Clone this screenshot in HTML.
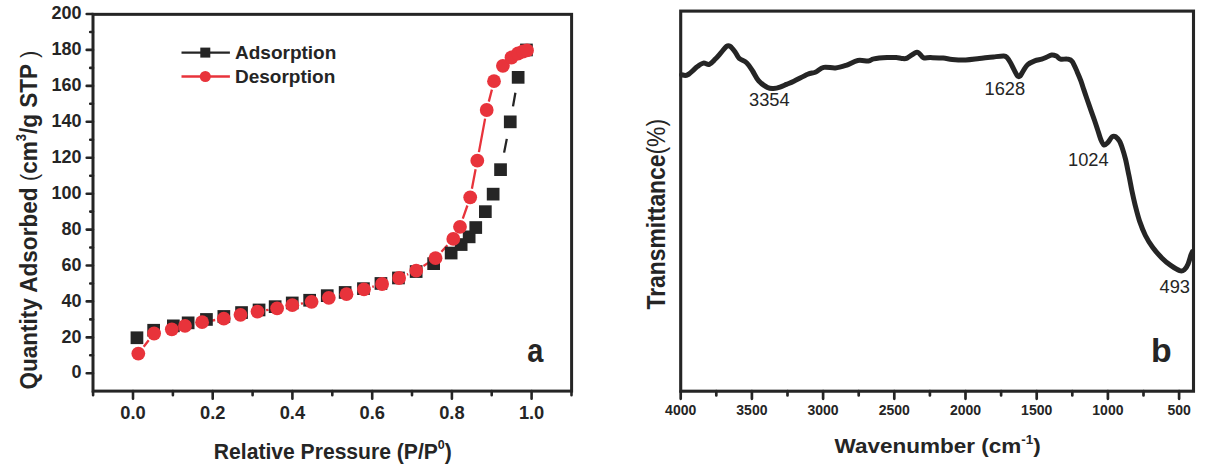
<!DOCTYPE html><html><head><meta charset="utf-8"><style>html,body{margin:0;padding:0;background:#fff;width:1219px;height:469px;overflow:hidden}svg{display:block}text{font-family:"Liberation Sans",sans-serif}</style></head><body>
<svg width="1219" height="469" viewBox="0 0 1219 469">
<path d="M86.7,373.3H93 M86.7,337.4H93 M86.7,301.4H93 M86.7,265.5H93 M86.7,229.6H93 M86.7,193.7H93 M86.7,157.7H93 M86.7,121.8H93 M86.7,85.9H93 M86.7,49.9H93 M86.7,14.0H93 M90.2,355.3H93 M90.2,319.4H93 M90.2,283.5H93 M90.2,247.5H93 M90.2,211.6H93 M90.2,175.7H93 M90.2,139.8H93 M90.2,103.8H93 M90.2,67.9H93 M90.2,32.0H93 M133.0,391.1V398.70000000000005 M212.7,391.1V398.70000000000005 M292.4,391.1V398.70000000000005 M372.2,391.1V398.70000000000005 M451.9,391.1V398.70000000000005 M531.6,391.1V398.70000000000005 M93.1,391.1V395.3 M172.9,391.1V395.3 M252.6,391.1V395.3 M332.3,391.1V395.3 M412.0,391.1V395.3 M491.7,391.1V395.3 M571.5,391.1V395.3" stroke="#252525" stroke-width="2.6" fill="none" stroke-linecap="round"/>
<rect x="93" y="14.35" width="478.6" height="376.75" fill="none" stroke="#252525" stroke-width="3.0"/>
<text x="81.5" y="378.4" text-anchor="end" font-size="18" font-weight="bold" fill="#252525">0</text>
<text x="81.5" y="342.5" text-anchor="end" font-size="18" font-weight="bold" fill="#252525">20</text>
<text x="81.5" y="306.5" text-anchor="end" font-size="18" font-weight="bold" fill="#252525">40</text>
<text x="81.5" y="270.6" text-anchor="end" font-size="18" font-weight="bold" fill="#252525">60</text>
<text x="81.5" y="234.7" text-anchor="end" font-size="18" font-weight="bold" fill="#252525">80</text>
<text x="81.5" y="198.8" text-anchor="end" font-size="18" font-weight="bold" fill="#252525">100</text>
<text x="81.5" y="162.8" text-anchor="end" font-size="18" font-weight="bold" fill="#252525">120</text>
<text x="81.5" y="126.9" text-anchor="end" font-size="18" font-weight="bold" fill="#252525">140</text>
<text x="81.5" y="91.0" text-anchor="end" font-size="18" font-weight="bold" fill="#252525">160</text>
<text x="81.5" y="55.0" text-anchor="end" font-size="18" font-weight="bold" fill="#252525">180</text>
<text x="81.5" y="19.1" text-anchor="end" font-size="18" font-weight="bold" fill="#252525">200</text>
<text x="133.0" y="419.2" text-anchor="middle" font-size="18.3" font-weight="bold" fill="#252525">0.0</text>
<text x="212.7" y="419.2" text-anchor="middle" font-size="18.3" font-weight="bold" fill="#252525">0.2</text>
<text x="292.4" y="419.2" text-anchor="middle" font-size="18.3" font-weight="bold" fill="#252525">0.4</text>
<text x="372.2" y="419.2" text-anchor="middle" font-size="18.3" font-weight="bold" fill="#252525">0.6</text>
<text x="451.9" y="419.2" text-anchor="middle" font-size="18.3" font-weight="bold" fill="#252525">0.8</text>
<text x="531.6" y="419.2" text-anchor="middle" font-size="18.3" font-weight="bold" fill="#252525">1.0</text>
<text transform="translate(213.8,458.8) scale(0.96,1)" font-size="22" font-weight="bold" fill="#252525">Relative Pressure (P/P<tspan dy="-10" font-size="13">0</tspan><tspan dy="10">)</tspan></text>
<text transform="translate(37.2,389.5) rotate(-90) scale(0.92,1)" font-size="24.5" font-weight="bold" fill="#252525">Quantity Adsorbed <tspan font-weight="normal">(</tspan>cm<tspan dy="-11" font-size="14">3</tspan><tspan dy="11">/g STP </tspan><tspan font-weight="normal">)</tspan></text>
<text transform="translate(527.2,362.2) scale(0.89,1)" font-size="32.5" font-weight="bold" fill="#252525">a</text>
<path d="M181.5,52.6H229.9" stroke="#252525" stroke-width="2.4"/><rect x="200.3" y="47.6" width="10" height="10" fill="#252525"/>
<text transform="translate(235,59.3) scale(1,1)" font-size="19" font-weight="bold" fill="#252525">Adsorption</text>
<path d="M181.5,76.5H229.9" stroke="#e8333b" stroke-width="2.4"/><circle cx="205.3" cy="76.5" r="5.5" fill="#e8333b"/>
<text transform="translate(235,82.9) scale(1,1)" font-size="19" font-weight="bold" fill="#252525">Desorption</text>
<path d="M504.1,152.6L506.8,138.9 M513.0,106.4L515.4,92.7" stroke="#252525" stroke-width="2.3" fill="none"/>
<path d="M143.7,346.8L148.7,340.3 M210.7,320.8L215.2,320.0 M266.1,310.2L268.5,309.8 M300.9,303.7L303.0,303.3 M372.3,286.9L373.8,286.4 M407.1,274.6L408.2,274.1 M423.5,266.0L428.2,262.9 M441.4,251.8L447.4,245.3 M462.8,218.6L467.4,205.5 M471.9,188.8L475.6,169.2 M478.9,152.1L485.1,118.6 M488.8,101.6L491.9,89.6" stroke="#e8333b" stroke-width="2.3" fill="none"/>
<rect x="130.6" y="331.4" width="12.7" height="12.7" fill="#252525"/>
<rect x="147.3" y="323.9" width="12.7" height="12.7" fill="#252525"/>
<rect x="167.0" y="319.5" width="12.7" height="12.7" fill="#252525"/>
<rect x="181.8" y="316.5" width="12.7" height="12.7" fill="#252525"/>
<rect x="200.1" y="313.1" width="12.7" height="12.7" fill="#252525"/>
<rect x="217.5" y="310.1" width="12.7" height="12.7" fill="#252525"/>
<rect x="235.2" y="306.2" width="12.7" height="12.7" fill="#252525"/>
<rect x="252.7" y="303.6" width="12.7" height="12.7" fill="#252525"/>
<rect x="268.8" y="300.3" width="12.7" height="12.7" fill="#252525"/>
<rect x="285.9" y="296.6" width="12.7" height="12.7" fill="#252525"/>
<rect x="303.3" y="293.9" width="12.7" height="12.7" fill="#252525"/>
<rect x="320.9" y="289.3" width="12.7" height="12.7" fill="#252525"/>
<rect x="338.8" y="286.1" width="12.7" height="12.7" fill="#252525"/>
<rect x="357.1" y="282.3" width="12.7" height="12.7" fill="#252525"/>
<rect x="374.6" y="277.1" width="12.7" height="12.7" fill="#252525"/>
<rect x="392.1" y="271.6" width="12.7" height="12.7" fill="#252525"/>
<rect x="409.8" y="265.2" width="12.7" height="12.7" fill="#252525"/>
<rect x="427.3" y="257.3" width="12.7" height="12.7" fill="#252525"/>
<rect x="444.8" y="246.7" width="12.7" height="12.7" fill="#252525"/>
<rect x="454.8" y="238.2" width="12.7" height="12.7" fill="#252525"/>
<rect x="462.8" y="230.5" width="12.7" height="12.7" fill="#252525"/>
<rect x="469.4" y="221.2" width="12.7" height="12.7" fill="#252525"/>
<rect x="479.0" y="205.3" width="12.7" height="12.7" fill="#252525"/>
<rect x="486.8" y="187.8" width="12.7" height="12.7" fill="#252525"/>
<rect x="494.2" y="163.3" width="12.7" height="12.7" fill="#252525"/>
<rect x="503.9" y="115.5" width="12.7" height="12.7" fill="#252525"/>
<rect x="511.8" y="71.0" width="12.7" height="12.7" fill="#252525"/>
<rect x="520.1" y="43.6" width="12.7" height="12.7" fill="#252525"/>
<circle cx="138.3" cy="353.6" r="6.9" fill="#e8333b"/>
<circle cx="154.1" cy="333.5" r="6.9" fill="#e8333b"/>
<circle cx="171.8" cy="329.3" r="6.9" fill="#e8333b"/>
<circle cx="185" cy="325.9" r="6.9" fill="#e8333b"/>
<circle cx="202.1" cy="322.2" r="6.9" fill="#e8333b"/>
<circle cx="223.8" cy="318.6" r="6.9" fill="#e8333b"/>
<circle cx="240.5" cy="314.8" r="6.9" fill="#e8333b"/>
<circle cx="257.5" cy="311.6" r="6.9" fill="#e8333b"/>
<circle cx="277.1" cy="308.4" r="6.9" fill="#e8333b"/>
<circle cx="292.3" cy="305.2" r="6.9" fill="#e8333b"/>
<circle cx="311.6" cy="301.8" r="6.9" fill="#e8333b"/>
<circle cx="328.8" cy="297.8" r="6.9" fill="#e8333b"/>
<circle cx="346.5" cy="294.2" r="6.9" fill="#e8333b"/>
<circle cx="364" cy="289.3" r="6.9" fill="#e8333b"/>
<circle cx="382.1" cy="284" r="6.9" fill="#e8333b"/>
<circle cx="399.1" cy="278" r="6.9" fill="#e8333b"/>
<circle cx="416.2" cy="270.7" r="6.9" fill="#e8333b"/>
<circle cx="435.5" cy="258.2" r="6.9" fill="#e8333b"/>
<circle cx="453.3" cy="238.9" r="6.9" fill="#e8333b"/>
<circle cx="460" cy="226.8" r="6.9" fill="#e8333b"/>
<circle cx="470.2" cy="197.3" r="6.9" fill="#e8333b"/>
<circle cx="477.3" cy="160.7" r="6.9" fill="#e8333b"/>
<circle cx="486.7" cy="110" r="6.9" fill="#e8333b"/>
<circle cx="494" cy="81.2" r="6.9" fill="#e8333b"/>
<circle cx="502.9" cy="65.8" r="6.9" fill="#e8333b"/>
<circle cx="511.5" cy="57.5" r="6.9" fill="#e8333b"/>
<circle cx="518" cy="53.5" r="6.9" fill="#e8333b"/>
<circle cx="523" cy="51.5" r="6.9" fill="#e8333b"/>
<circle cx="527" cy="50.4" r="6.9" fill="#e8333b"/>
<path d="M680.7,391.2V398.8 M751.9,391.2V398.8 M823.1,391.2V398.8 M894.3,391.2V398.8 M965.5,391.2V398.8 M1036.7,391.2V398.8 M1107.9,391.2V398.8 M1179.1,391.2V398.8 M716.3,391.2V395.4 M787.5,391.2V395.4 M858.7,391.2V395.4 M929.9,391.2V395.4 M1001.1,391.2V395.4 M1072.3,391.2V395.4 M1143.5,391.2V395.4" stroke="#252525" stroke-width="2.7" fill="none" stroke-linecap="round"/>
<rect x="680.7" y="11.1" width="512.8" height="380.09999999999997" fill="none" stroke="#252525" stroke-width="3.1"/>
<text x="680.7" y="414.6" text-anchor="middle" font-size="14" font-weight="bold" fill="#252525">4000</text>
<text x="751.9" y="414.6" text-anchor="middle" font-size="14" font-weight="bold" fill="#252525">3500</text>
<text x="823.1" y="414.6" text-anchor="middle" font-size="14" font-weight="bold" fill="#252525">3000</text>
<text x="894.3" y="414.6" text-anchor="middle" font-size="14" font-weight="bold" fill="#252525">2500</text>
<text x="965.5" y="414.6" text-anchor="middle" font-size="14" font-weight="bold" fill="#252525">2000</text>
<text x="1036.7" y="414.6" text-anchor="middle" font-size="14" font-weight="bold" fill="#252525">1500</text>
<text x="1107.9" y="414.6" text-anchor="middle" font-size="14" font-weight="bold" fill="#252525">1000</text>
<text x="1179.1" y="414.6" text-anchor="middle" font-size="14" font-weight="bold" fill="#252525">500</text>
<text transform="translate(834.5,452.5) scale(1.115,1)" font-size="20.2" font-weight="bold" fill="#252525">Wavenumber (cm<tspan dy="-9" font-size="12">-1</tspan><tspan dy="9">)</tspan></text>
<text transform="translate(664.7,309.5) rotate(-90) scale(0.88,1)" font-size="26" font-weight="bold" fill="#252525">Transmittance<tspan font-weight="normal">(%)</tspan></text>
<text transform="translate(1151,362) scale(1.04,1)" font-size="32.5" font-weight="bold" fill="#252525">b</text>
<text x="749" y="105.6" font-size="18.3" fill="#252525">3354</text>
<text x="984.5" y="95.2" font-size="18.3" fill="#252525">1628</text>
<text x="1068" y="166" font-size="18.3" fill="#252525">1024</text>
<text x="1159.5" y="292.5" font-size="18.3" fill="#252525">493</text>
<path d="M681.7,74.8 C682.7,74.8 685.1,76.2 687.7,74.8 C690.3,73.4 694.8,68.5 697.4,66.6 C700.0,64.6 701.4,63.5 703.4,63.1 C705.4,62.7 707.3,65.0 709.3,64.3 C711.3,63.6 713.3,61.1 715.3,59.1 C717.3,57.1 719.4,54.5 721.3,52.4 C723.2,50.3 725.0,47.4 726.5,46.4 C728.0,45.4 728.7,45.4 730.2,46.4 C731.7,47.4 733.9,50.4 735.4,52.4 C736.9,54.4 737.3,56.7 739.2,58.4 C741.1,60.1 744.4,60.7 746.6,62.8 C748.8,64.9 750.6,68.0 752.6,71.0 C754.6,74.0 756.1,78.0 758.6,80.7 C761.1,83.5 765.0,86.2 767.5,87.5 C770.0,88.8 771.4,88.6 773.5,88.5 C775.6,88.4 777.9,87.8 780.0,87.1 C782.1,86.4 784.1,85.4 786.4,84.4 C788.7,83.4 790.3,82.9 793.9,81.2 C797.5,79.5 804.2,75.8 807.7,74.3 C811.2,72.8 812.5,73.3 815.2,72.2 C817.9,71.1 820.3,68.1 823.7,67.4 C827.1,66.7 831.7,68.2 835.4,67.9 C839.1,67.6 842.4,66.5 846.1,65.3 C849.8,64.1 854.1,61.2 857.8,60.5 C861.5,59.8 865.8,61.3 868.5,61.0 C871.2,60.7 870.7,59.5 873.8,58.9 C876.9,58.3 883.5,57.8 887.2,57.6 C890.9,57.4 893.8,57.5 896.2,57.6 C898.6,57.7 899.9,58.3 901.7,58.4 C903.5,58.5 904.6,59.1 907.1,58.1 C909.6,57.1 914.3,52.3 917.0,52.2 C919.7,52.1 921.0,56.7 923.3,57.6 C925.5,58.5 927.2,57.5 930.5,57.6 C933.8,57.7 939.6,57.8 943.2,58.1 C946.8,58.4 948.5,59.1 952.2,59.4 C956.0,59.7 961.2,60.0 965.7,59.9 C970.2,59.8 974.7,59.0 979.3,58.5 C983.9,58.0 989.4,57.3 993.5,56.9 C997.6,56.5 1001.5,56.0 1003.8,56.1 C1006.1,56.2 1006.1,56.7 1007.2,57.8 C1008.3,58.9 1009.5,60.9 1010.6,62.9 C1011.7,64.9 1012.9,67.6 1014.0,69.7 C1015.1,71.8 1016.4,74.6 1017.4,75.7 C1018.4,76.8 1019.0,76.9 1020.0,76.1 C1021.0,75.2 1022.1,72.5 1023.4,70.6 C1024.7,68.7 1025.8,66.2 1027.7,64.6 C1029.6,63.0 1032.4,61.7 1034.7,60.8 C1037.0,59.9 1039.8,59.7 1041.7,59.1 C1043.7,58.5 1044.7,58.0 1046.4,57.3 C1048.1,56.6 1050.0,55.2 1051.7,55.0 C1053.4,54.8 1054.9,55.4 1056.4,56.1 C1057.9,56.8 1058.7,58.6 1060.5,59.1 C1062.3,59.6 1065.5,58.7 1067.5,59.1 C1069.5,59.5 1070.6,59.3 1072.2,61.4 C1073.8,63.5 1075.8,68.7 1077.2,71.9 C1078.7,75.2 1079.8,77.9 1080.9,80.9 C1082.0,83.9 1082.9,86.9 1083.9,89.9 C1084.9,92.9 1085.8,95.6 1086.9,98.8 C1088.0,102.0 1089.4,105.8 1090.6,109.3 C1091.8,112.8 1093.2,116.5 1094.3,119.7 C1095.4,122.9 1096.2,125.3 1097.3,128.7 C1098.4,132.0 1099.8,137.1 1100.9,139.8 C1102.0,142.5 1102.8,144.5 1103.9,145.0 C1105.0,145.5 1106.2,144.2 1107.6,142.8 C1109.0,141.4 1110.7,137.8 1112.1,136.8 C1113.5,135.8 1114.5,136.1 1115.8,136.8 C1117.0,137.6 1118.5,139.3 1119.6,141.3 C1120.7,143.3 1121.5,145.7 1122.5,148.7 C1123.5,151.7 1124.4,154.7 1125.5,159.2 C1126.6,163.7 1127.9,170.6 1129.0,175.8 C1130.1,181.1 1130.9,186.0 1131.9,190.7 C1132.9,195.4 1133.7,199.2 1134.9,204.2 C1136.2,209.2 1137.7,215.4 1139.4,220.6 C1141.2,225.8 1143.2,231.0 1145.4,235.5 C1147.6,240.0 1150.1,243.8 1152.8,247.5 C1155.5,251.2 1158.8,254.9 1161.8,257.9 C1164.8,260.9 1167.7,263.3 1170.7,265.4 C1173.7,267.5 1177.5,269.9 1179.7,270.7 C1182.0,271.4 1182.8,271.0 1184.2,269.9 C1185.6,268.8 1187.0,266.4 1188.1,263.9 C1189.2,261.4 1190.3,257.0 1191.0,254.9 C1191.7,252.8 1192.2,252.1 1192.4,251.5" stroke="#252525" stroke-width="5" fill="none" stroke-linejoin="round" stroke-linecap="round"/>
</svg></body></html>
